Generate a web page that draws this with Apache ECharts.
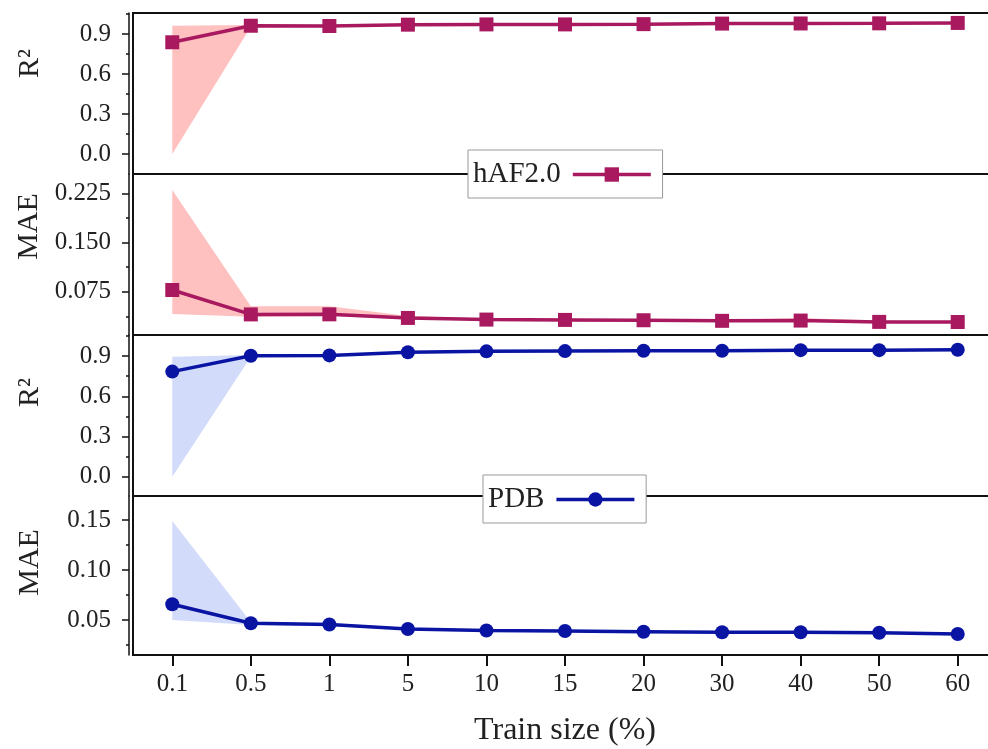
<!DOCTYPE html>
<html>
<head>
<meta charset="utf-8">
<script src="https://cdn.jsdelivr.net/npm/echarts@6/dist/echarts.min.js"></script>
<style>html,body{margin:0;padding:0;background:#fff}#c{width:988px;height:749px}</style>
</head>
<body>
<div id="c"></div>
<script>
const categories = ['0.1','0.5','1','5','10','15','20','30','40','50','60'];

const hafR2Mean = [0.838, 0.962, 0.960, 0.970, 0.972, 0.972, 0.974, 0.978, 0.979, 0.980, 0.983];
const hafR2Low  = [0.000, 0.955, 0.955, 0.965, 0.968, 0.968, 0.962, 0.972, 0.975, 0.976, 0.979];
const hafR2High = [0.962, 0.968, 0.966, 0.975, 0.976, 0.976, 0.978, 0.982, 0.983, 0.984, 0.986];

const hafMaeMean = [0.0776, 0.0404, 0.0405, 0.0350, 0.0325, 0.0320, 0.0315, 0.0306, 0.0310, 0.0290, 0.0288];
const hafMaeLow  = [0.0410, 0.0370, 0.0380, 0.0330, 0.0310, 0.0300, 0.0300, 0.0290, 0.0290, 0.0280, 0.0270];
const hafMaeHigh = [0.2300, 0.0530, 0.0530, 0.0380, 0.0340, 0.0340, 0.0330, 0.0320, 0.0350, 0.0310, 0.0300];

const pdbR2Mean = [0.784, 0.902, 0.905, 0.928, 0.935, 0.937, 0.939, 0.940, 0.944, 0.944, 0.947];
const pdbR2Low  = [0.000, 0.895, 0.898, 0.922, 0.930, 0.932, 0.934, 0.936, 0.940, 0.940, 0.943];
const pdbR2High = [0.895, 0.908, 0.910, 0.933, 0.940, 0.942, 0.944, 0.945, 0.948, 0.948, 0.951];

const pdbMaeMean = [0.0657, 0.0467, 0.0455, 0.0410, 0.0395, 0.0390, 0.0383, 0.0377, 0.0377, 0.0373, 0.0360];
const pdbMaeLow  = [0.0500, 0.0450, 0.0440, 0.0400, 0.0385, 0.0380, 0.0375, 0.0370, 0.0370, 0.0365, 0.0350];
const pdbMaeHigh = [0.1490, 0.0480, 0.0470, 0.0420, 0.0405, 0.0400, 0.0390, 0.0385, 0.0385, 0.0380, 0.0370];

const r2Ticks = [0, 0.3, 0.6, 0.9];
const r2MinorTicks = [0.15, 0.45, 0.75, 1.05];
const hafMaeTicks = [0.075, 0.150, 0.225];
const hafMaeMinorTicks = [0.0375, 0.1125, 0.1875];
const pdbMaeTicks = [0.05, 0.10, 0.15];
const pdbMaeMinorTicks = [0.025, 0.075, 0.125];

const FONT = 'Liberation Serif';
const HAF_LINE = '#A8195F', HAF_FILL = '#FFC0C0';
const PDB_LINE = '#0A14A3', PDB_FILL = '#D3DBFA';

const panels = [
  {top: 13,  height: 161, min: -0.15, max: 1.0575, ticks: r2Ticks, minor: r2MinorTicks, dec: 1, name: 'R²', pad: 60,
   mean: hafR2Mean, low: hafR2Low, high: hafR2High, line: HAF_LINE, fill: HAF_FILL, sname: 'hAF2.0', symbol: 'rect'},
  {top: 174, height: 161, min: 0.009, max: 0.2544, ticks: hafMaeTicks, minor: hafMaeMinorTicks, dec: 3, name: 'MAE', pad: 56,
   mean: hafMaeMean, low: hafMaeLow, high: hafMaeHigh, line: HAF_LINE, fill: HAF_FILL, sname: 'hAF2.0', symbol: 'rect'},
  {top: 335, height: 161, min: -0.144, max: 1.057, ticks: r2Ticks, minor: r2MinorTicks, dec: 1, name: 'R²', pad: 46,
   mean: pdbR2Mean, low: pdbR2Low, high: pdbR2High, line: PDB_LINE, fill: PDB_FILL, sname: 'PDB', symbol: 'circle'},
  {top: 496, height: 159, min: 0.015, max: 0.174, ticks: pdbMaeTicks, minor: pdbMaeMinorTicks, dec: 2, name: 'MAE', pad: 26,
   mean: pdbMaeMean, low: pdbMaeLow, high: pdbMaeHigh, line: PDB_LINE, fill: PDB_FILL, sname: 'PDB', symbol: 'circle'}
];

const grid = [], xAxis = [], yAxis = [], series = [];
panels.forEach((p, i) => {
  grid.push({left: 133, width: 864, top: p.top, height: p.height, show: true,
             outerBoundsMode: 'none', containLabel: false,
             borderColor: '#111', borderWidth: 2, backgroundColor: 'transparent'});
  const last = i === panels.length - 1;
  xAxis.push({
    type: 'category', gridIndex: i, data: categories, boundaryGap: true,
    axisLine: {show: last, lineStyle: {color: '#111', width: 2}},
    axisTick: {show: last, alignWithLabel: true, length: 11, lineStyle: {color: '#111', width: 2}},
    axisLabel: {show: last, margin: 17, fontFamily: FONT, fontSize: 25, color: '#222'},
    splitLine: {show: false},
    name: last ? 'Train size (%)' : '', nameLocation: 'middle', nameGap: 60,
    nameTextStyle: {fontFamily: FONT, fontSize: 32, color: '#222'}
  });
  yAxis.push({
    type: 'value', gridIndex: i, min: p.min, max: p.max, position: 'left', offset: 4,
    axisLine: {show: true, lineStyle: {color: '#111', width: 1.5}},
    axisTick: {show: true, length: 7, customValues: p.ticks, lineStyle: {color: '#111', width: 1.5}},
    axisLabel: {show: true, margin: 18, customValues: p.ticks, fontFamily: FONT, fontSize: 25, color: '#222',
                formatter: v => Number(v).toFixed(p.dec)},
    splitLine: {show: false},
    name: p.name, nameLocation: 'middle', nameGap: 84,
    nameTextStyle: {fontFamily: FONT, fontSize: 30, color: '#222', padding: [0, 0, 0, p.pad]}
  });
  yAxis.push({
    type: 'value', gridIndex: i, min: p.min, max: p.max, position: 'left', offset: 4,
    axisLine: {show: false},
    axisTick: {show: true, length: 3, customValues: p.minor, lineStyle: {color: '#111', width: 1.5}},
    axisLabel: {show: false},
    splitLine: {show: false}
  });
  const stackId = 'band' + i;
  series.push({
    name: 'low' + i, type: 'line', xAxisIndex: i, yAxisIndex: 2 * i, data: p.low,
    stack: stackId, stackStrategy: 'all', symbol: 'none', silent: true,
    lineStyle: {opacity: 0, width: 0}, z: 1
  });
  series.push({
    name: 'band' + i, type: 'line', xAxisIndex: i, yAxisIndex: 2 * i,
    data: p.high.map((h, k) => +(h - p.low[k]).toFixed(5)),
    stack: stackId, stackStrategy: 'all', symbol: 'none', silent: true,
    lineStyle: {opacity: 0, width: 0}, areaStyle: {color: p.fill, opacity: 1}, z: 1
  });
  series.push({
    name: p.sname, type: 'line', xAxisIndex: i, yAxisIndex: 2 * i, data: p.mean,
    symbol: p.symbol, symbolSize: 14, showAllSymbol: true,
    lineStyle: {color: p.line, width: 3.5}, itemStyle: {color: p.line}, z: 3
  });
});

const legendCommon = {
  orient: 'horizontal', align: 'right', itemWidth: 78, itemHeight: 18,
  backgroundColor: '#fff', borderColor: '#999', borderWidth: 1, borderRadius: 0,
  padding: [10, 10, 9, 5], selectedMode: false,
  lineStyle: {width: 3.5},
  textStyle: {fontFamily: FONT, fontSize: 29, color: '#222', padding: [0, 7, 0, 0]}
};

const chart = echarts.init(document.getElementById('c'), null, {renderer: 'canvas'});
chart.setOption({
  animation: false,
  backgroundColor: '#fff',
  grid, xAxis, yAxis, series,
  legend: [
    Object.assign({}, legendCommon, {data: ['hAF2.0'], left: 468, top: 150}),
    Object.assign({}, legendCommon, {data: ['PDB'], left: 483, top: 475})
  ]
});
</script>
</body>
</html>
